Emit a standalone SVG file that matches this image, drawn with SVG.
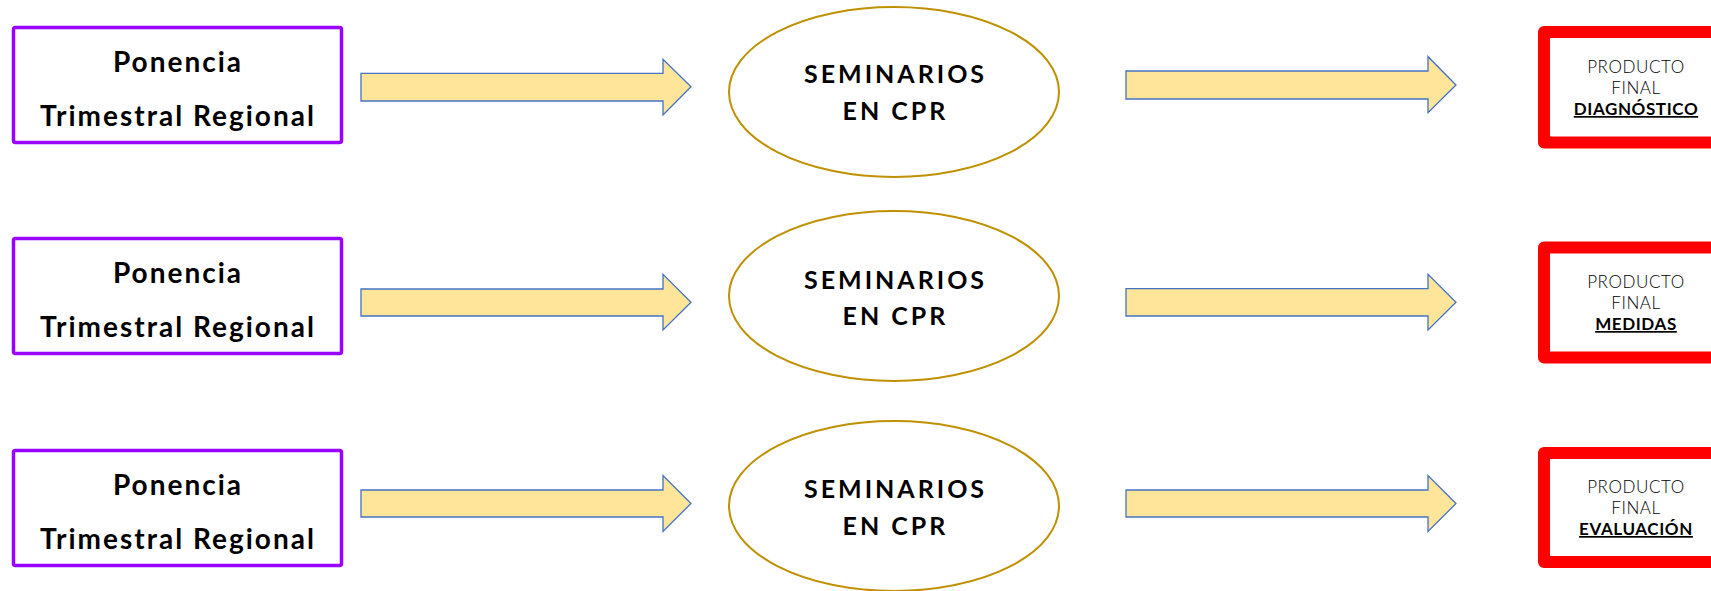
<svg xmlns="http://www.w3.org/2000/svg" width="1711" height="591" viewBox="0 0 1711 591">
<style>
.pbox{fill:#fff;stroke:#9900ff;stroke-width:3.5}
.ptxt{font-family:Lato,"Liberation Sans",sans-serif;font-weight:700;font-size:28px;letter-spacing:2px;fill:#000;text-anchor:middle}
.ell{fill:#fff;stroke:#bf9000;stroke-width:2}
.etxt{font-family:Lato,"Liberation Sans",sans-serif;font-weight:700;font-size:25px;letter-spacing:3px;fill:#000;text-anchor:middle}
.arr{fill:#ffe599;stroke:#4472c4;stroke-width:1.3}
.rbox{fill:#fff;stroke:#ff0000;stroke-width:12;stroke-linejoin:round}
.rtxt{font-family:Lato,"Liberation Sans",sans-serif;font-weight:300;font-size:17px;letter-spacing:0.6px;fill:#000;text-anchor:middle}
.rbold{font-family:Lato,"Liberation Sans",sans-serif;font-weight:700;font-size:17px;letter-spacing:0.6px;fill:#000;text-anchor:middle;text-decoration:underline}
</style>
<rect width="1711" height="591" fill="#fff"/>
<g id="connectors">
<path class="arr" d="M361,73.3 H663 V59.3 L691,86.7 L663,115 V101 H361 Z"/>
<path class="arr" d="M1126,71 H1428 V56.7 L1456,85 L1428,112.7 V99 H1126 Z"/>
<path class="arr" d="M361,289 H663 V274.3 L691,302.3 L663,330 V316 H361 Z"/>
<path class="arr" d="M1126,288.7 H1428 V274.3 L1456,302.3 L1428,330 V316 H1126 Z"/>
<path class="arr" d="M361,490 H663 V475.5 L691,503.5 L663,531.5 V517 H361 Z"/>
<path class="arr" d="M1126,490 H1428 V475.5 L1456,503.5 L1428,531.5 V517 H1126 Z"/>
</g>
<g id="ponencia1">
<rect class="pbox" x="13.5" y="27.5" width="328" height="115" rx="2"/>
<text class="ptxt" x="178" y="72">Ponencia</text>
<text class="ptxt" x="178" y="126">Trimestral Regional</text>
</g>
<g id="ponencia2">
<rect class="pbox" x="13.5" y="238.5" width="328" height="115" rx="2"/>
<text class="ptxt" x="178" y="283">Ponencia</text>
<text class="ptxt" x="178" y="337">Trimestral Regional</text>
</g>
<g id="ponencia3">
<rect class="pbox" x="13.5" y="450.5" width="328" height="115" rx="2"/>
<text class="ptxt" x="178" y="495">Ponencia</text>
<text class="ptxt" x="178" y="549">Trimestral Regional</text>
</g>
<g id="seminarios1">
<ellipse class="ell" cx="894" cy="92" rx="165" ry="85"/>
<text class="etxt" x="895.5" y="83">SEMINARIOS</text>
<text class="etxt" x="895.5" y="120">EN CPR</text>
</g>
<g id="seminarios2">
<ellipse class="ell" cx="894" cy="296" rx="165" ry="85"/>
<text class="etxt" x="895.5" y="289">SEMINARIOS</text>
<text class="etxt" x="895.5" y="325">EN CPR</text>
</g>
<g id="seminarios3">
<ellipse class="ell" cx="894" cy="506" rx="165" ry="85"/>
<text class="etxt" x="895.5" y="498">SEMINARIOS</text>
<text class="etxt" x="895.5" y="535">EN CPR</text>
</g>
<g id="producto1">
<rect class="rbox" x="1544" y="32" width="184" height="110.5"/>
<text class="rtxt" x="1636" y="73">PRODUCTO</text>
<text class="rtxt" x="1636" y="94">FINAL</text>
<text class="rbold" x="1636" y="115">DIAGNÓSTICO</text>
</g>
<g id="producto2">
<rect class="rbox" x="1544" y="247.5" width="184" height="110"/>
<text class="rtxt" x="1636" y="288">PRODUCTO</text>
<text class="rtxt" x="1636" y="309">FINAL</text>
<text class="rbold" x="1636" y="330">MEDIDAS</text>
</g>
<g id="producto3">
<rect class="rbox" x="1544" y="453" width="184" height="109"/>
<text class="rtxt" x="1636" y="493">PRODUCTO</text>
<text class="rtxt" x="1636" y="514">FINAL</text>
<text class="rbold" x="1636" y="535">EVALUACIÓN</text>
</g>
</svg>
